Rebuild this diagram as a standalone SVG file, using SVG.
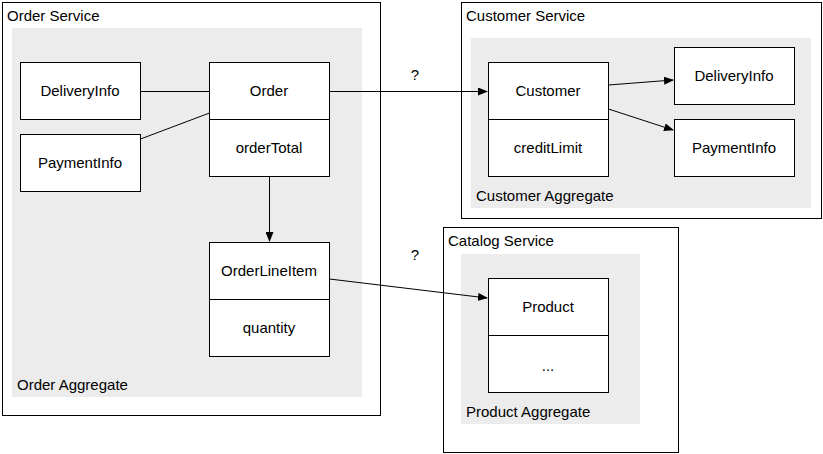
<svg xmlns="http://www.w3.org/2000/svg" width="823" height="454" viewBox="0 0 823 454">
<style>
text{font-family:"Liberation Sans",Arial,sans-serif;font-size:15px;fill:#000}
.svc{fill:#fff;stroke:#000;stroke-width:1}
.agg{fill:#ececec;stroke:none}
.box{fill:#fff;stroke:#000;stroke-width:1}
.c{text-anchor:middle}
.ln{stroke:#000;stroke-width:1;fill:none}
</style>
<defs><marker id="a" markerWidth="10" markerHeight="8" refX="9" refY="4" orient="auto" markerUnits="userSpaceOnUse"><path d="M0,0 L10,4 L0,8 z" fill="#000"/></marker></defs>
<rect width="823" height="454" fill="#fff"/>
<g id="orderService"><rect class="svc" x="2.5" y="2.5" width="378" height="413"/><text x="7" y="21">Order Service</text>
<rect class="agg" x="12" y="28" width="350" height="369"/><text x="17" y="390">Order Aggregate</text></g>
<g id="customerService"><rect class="svc" x="461.5" y="2.5" width="360" height="216"/><text x="466" y="21">Customer Service</text>
<rect class="agg" x="471" y="38" width="340" height="170"/><text x="476" y="201">Customer Aggregate</text></g>
<g id="catalogService"><rect class="svc" x="443.5" y="227.5" width="235" height="225"/><text x="448" y="246">Catalog Service</text>
<rect class="agg" x="461" y="254" width="179" height="170"/><text x="466" y="417">Product Aggregate</text></g>
<g id="deliveryInfo1"><rect class="box" x="20.5" y="62.5" width="120" height="57"/><text class="c" x="80" y="96">DeliveryInfo</text></g>
<g id="paymentInfo1"><rect class="box" x="20.5" y="134.5" width="120" height="57"/><text class="c" x="80" y="168">PaymentInfo</text></g>
<g id="order"><rect class="box" x="209.5" y="62.5" width="120" height="114"/><line class="ln" x1="209.5" y1="119.5" x2="329.5" y2="119.5"/><text class="c" x="269" y="96">Order</text><text class="c" x="269" y="153">orderTotal</text></g>
<g id="orderLineItem"><rect class="box" x="209.5" y="242.5" width="120" height="114"/><line class="ln" x1="209.5" y1="299.5" x2="329.5" y2="299.5"/><text class="c" x="269" y="276">OrderLineItem</text><text class="c" x="269" y="333">quantity</text></g>
<g id="customer"><rect class="box" x="488.5" y="62.5" width="120" height="114"/><line class="ln" x1="488.5" y1="119.5" x2="608.5" y2="119.5"/><text class="c" x="548" y="96">Customer</text><text class="c" x="548" y="153">creditLimit</text></g>
<g id="deliveryInfo2"><rect class="box" x="674.5" y="47.5" width="120" height="57"/><text class="c" x="734" y="81">DeliveryInfo</text></g>
<g id="paymentInfo2"><rect class="box" x="674.5" y="119.5" width="120" height="57"/><text class="c" x="734" y="153">PaymentInfo</text></g>
<g id="product"><rect class="box" x="488.5" y="278.5" width="120" height="114"/><line class="ln" x1="488.5" y1="335.5" x2="608.5" y2="335.5"/><text class="c" x="548" y="312">Product</text><text class="c" x="548" y="371">...</text></g>
<g id="connectors">
<line class="ln" x1="140.5" y1="91.5" x2="209.5" y2="91.5"/>
<line class="ln" x1="140.5" y1="139" x2="209.5" y2="113"/>
<line class="ln" x1="329.5" y1="91.5" x2="487" y2="91.5" marker-end="url(#a)"/>
<line class="ln" x1="269.5" y1="176.5" x2="269.5" y2="241" marker-end="url(#a)"/>
<line class="ln" x1="329.5" y1="279" x2="487" y2="298" marker-end="url(#a)"/>
<line class="ln" x1="608.5" y1="85" x2="673" y2="80" marker-end="url(#a)"/>
<line class="ln" x1="608.5" y1="109" x2="673" y2="130" marker-end="url(#a)"/>
<text class="c" x="415" y="80">?</text>
<text class="c" x="415" y="260">?</text>
</g>
</svg>
